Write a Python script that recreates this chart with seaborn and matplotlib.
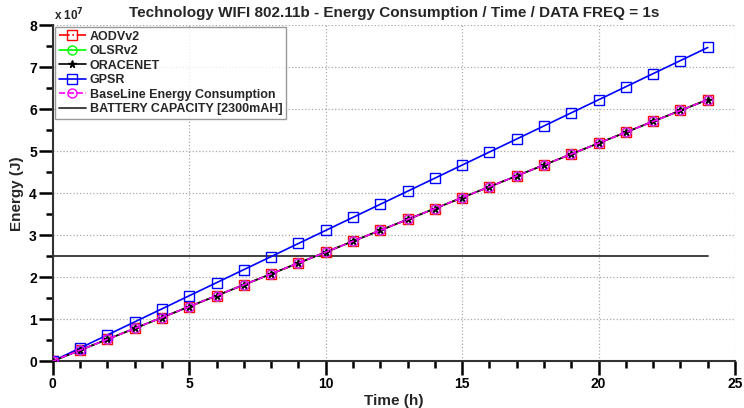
import numpy as np
import pandas as pd
import matplotlib
matplotlib.use("Agg")
import matplotlib.pyplot as plt
import seaborn as sns
from matplotlib.ticker import MultipleLocator, FuncFormatter

# time in hours
hours = list(range(25))

# energy in units of 1e7 J
gpsr = [0, 0.311, 0.623, 0.934, 1.245, 1.557, 1.868, 2.179, 2.490, 2.802, 3.113, 3.424, 3.736,
        4.047, 4.358, 4.670, 4.981, 5.292, 5.603, 5.915, 6.226, 6.537, 6.849, 7.160, 7.471]
aodv = [0, 0.260, 0.519, 0.779, 1.038, 1.298, 1.558, 1.817, 2.077, 2.336, 2.596, 2.856, 3.115,
        3.375, 3.634, 3.894, 4.154, 4.413, 4.673, 4.932, 5.192, 5.452, 5.711, 5.971, 6.230]
olsr = list(aodv)
oracenet = list(aodv)
baseline = list(aodv)
battery = 2.5  # 2300mAH capacity, x 1e7 J

series_names = ["AODVv2", "OLSRv2", "ORACENET", "GPSR", "BaseLine Energy Consumption"]
series_values = [aodv, olsr, oracenet, gpsr, baseline]

sns.set_style("ticks")
plt.rcParams["font.family"] = ["Liberation Sans", "DejaVu Sans"]
plt.rcParams["font.weight"] = "bold"

styles = {
    "AODVv2": dict(color="#ff0000", marker="s", linestyle="-.", mfc="none", zorder=3),
    "OLSRv2": dict(color="#00ff00", marker="o", linestyle="-", mfc="none", zorder=3),
    "ORACENET": dict(color="#000000", marker="*", linestyle="-", mfc="#000000", zorder=4),
    "GPSR": dict(color="#0000ff", marker="s", linestyle="-", mfc="none", zorder=3),
    "BaseLine Energy Consumption": dict(color="#ff00ff", marker="o", linestyle="--", mfc="none", zorder=5),
}

fig, ax = plt.subplots(figsize=(7.44, 4.08), dpi=100)
fig.subplots_adjust(left=0.071, right=0.988, top=0.938, bottom=0.115)

for name, vals in zip(series_names, series_values):
    st = styles[name]
    df = pd.DataFrame({"t": hours, "e": np.array(vals) * 1e7})
    sns.lineplot(data=df, x="t", y="e", ax=ax, color=st["color"], marker=st["marker"],
                 linestyle=st["linestyle"], markerfacecolor=st["mfc"], markeredgecolor=st["color"],
                 markersize=6.5 if st["marker"] != "*" else 5.5, markeredgewidth=1.0, linewidth=1.2,
                 label=name, zorder=st["zorder"])

bat_df = pd.DataFrame({"t": [hours[0], hours[-1]], "e": [battery * 1e7] * 2})
sns.lineplot(data=bat_df, x="t", y="e", ax=ax, color="#333333", linewidth=1.3,
             label="BATTERY CAPACITY [2300mAH]", zorder=2)

ax.set_xlim(0, 25)
ax.set_ylim(0, 8e7)
ax.xaxis.set_major_locator(MultipleLocator(5))
ax.xaxis.set_minor_locator(MultipleLocator(1))
ax.yaxis.set_major_locator(MultipleLocator(1e7))
ax.yaxis.set_minor_locator(MultipleLocator(0.5e7))
ax.yaxis.set_major_formatter(FuncFormatter(lambda v, p: f"{v / 1e7:.0f}"))

ax.grid(True, which="major", linestyle=":", color="#aaaaaa", linewidth=0.9)
ax.set_axisbelow(True)
ax.tick_params(axis="both", which="both", bottom=True, left=True, direction="out",
               colors="black")
ax.tick_params(axis="both", which="major", length=10, width=1.8, labelsize=10, pad=1.5)
ax.tick_params(axis="both", which="minor", length=5, width=1.8)
for lab in ax.get_xticklabels() + ax.get_yticklabels():
    lab.set_fontweight("bold")

ax.spines["top"].set_visible(False)
ax.spines["right"].set_visible(False)
ax.spines["left"].set_linewidth(1.5)
ax.spines["bottom"].set_linewidth(1.5)
ax.spines["left"].set_color("#333333")
ax.spines["bottom"].set_color("#333333")

ax.set_xlabel("Time (h)", fontsize=11, fontweight="bold", labelpad=2)
ax.set_ylabel("Energy (J)", fontsize=11, fontweight="bold", labelpad=4)
ax.set_title("Technology WIFI 802.11b - Energy Consumption / Time / DATA FREQ = 1s",
             fontsize=11, fontweight="bold", pad=6)
ax.text(0.002, 1.005, "x 10$^{7}$", transform=ax.transAxes, fontsize=8.5, ha="left", va="bottom")

leg = ax.legend(loc="upper left", bbox_to_anchor=(0.003, 0.995), frameon=True, fancybox=False,
                edgecolor="#808080", fontsize=9, handlelength=2.2, handletextpad=0.3,
                borderpad=0.3, labelspacing=0.2, borderaxespad=0.0)
leg.get_frame().set_linewidth(1.0)
for t in leg.get_texts():
    t.set_fontweight("bold")

fig.savefig("out.png", dpi=100, facecolor="white")
